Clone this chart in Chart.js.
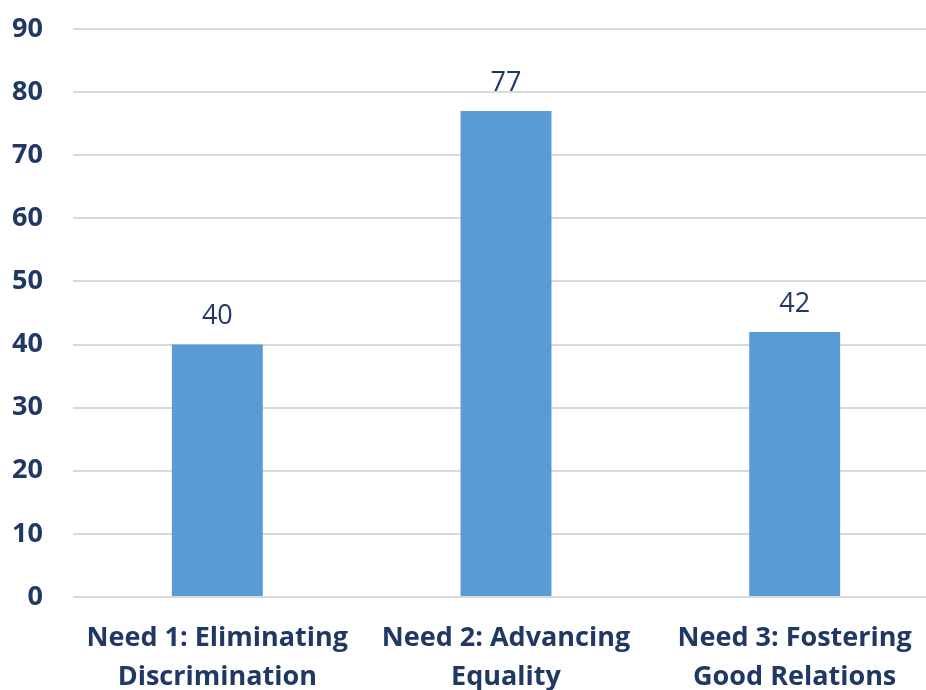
<!DOCTYPE html>
<html>
<head>
<meta charset="utf-8">
<title>Needs</title>
<script src="https://cdn.jsdelivr.net/npm/chart.js@4.4.1/dist/chart.umd.min.js"></script>
<style>
  html, body { margin: 0; padding: 0; background: #fff; overflow: hidden; }
  #frame { width: 926px; height: 690px; overflow: hidden; }
  /* plot runs slightly past the right edge */
  #wrap { width: 939px; height: 690px; position: relative; }
</style>
</head>
<body>
<div id="frame"><div id="wrap"><canvas id="needsChart"></canvas></div></div>
<script>
// Chart data
const categories = [
    ['Need 1: Eliminating', 'Discrimination'],
    ['Need 2: Advancing', 'Equality'],
    ['Need 3: Fostering', 'Good Relations']
];
const counts = [40, 77, 42];
const yTicks = [0, 10, 20, 30, 40, 50, 60, 70, 80, 90];

const NAVY = '#1F3864';
const BAR_BLUE = '#5B9BD5';
const FONT = '"Open Sans", sans-serif';

// Draws the value above each bar
const valueLabels = {
    id: 'valueLabels',
    afterDatasetsDraw(chart) {
        const ctx = chart.ctx;
        const meta = chart.getDatasetMeta(0);
        ctx.save();
        ctx.font = '27px ' + FONT;
        ctx.fillStyle = NAVY;
        ctx.textAlign = 'center';
        ctx.textBaseline = 'middle';
        meta.data.forEach(function(bar, i) {
            ctx.fillText(String(counts[i]), bar.x, bar.y - 28);
        });
        ctx.restore();
    }
};

new Chart(document.getElementById('needsChart'), {
    type: 'bar',
    data: {
        labels: categories,
        datasets: [{
            data: counts,
            backgroundColor: BAR_BLUE,
            borderWidth: 0,
            categoryPercentage: 0.315,
            barPercentage: 1.0
        }]
    },
    options: {
        responsive: true,
        maintainAspectRatio: false,
        animation: false,
        layout: {
            padding: { top: 29, right: 0, left: 0, bottom: 0 }
        },
        plugins: {
            legend: { display: false },
            tooltip: { enabled: false }
        },
        scales: {
            y: {
                min: 0,
                max: 90,
                afterBuildTicks: function(scale) {
                    scale.ticks = yTicks.map(v => ({ value: v }));
                },
                afterFit: function(scale) {
                    scale.width = 73;
                    scale.paddingTop = 0;
                    scale.paddingBottom = 0;
                },
                ticks: {
                    font: { family: FONT, size: 27, weight: 'bold' },
                    color: NAVY,
                    padding: 30
                },
                grid: {
                    color: '#D9D9D9',
                    lineWidth: 2,
                    drawTicks: false
                },
                border: { display: false }
            },
            x: {
                afterFit: function(scale) {
                    scale.height = 93;
                    scale.paddingLeft = 0;
                    scale.paddingRight = 0;
                },
                ticks: {
                    font: { family: FONT, size: 27, weight: 'bold', lineHeight: 1.45 },
                    color: NAVY,
                    padding: 22,
                    maxRotation: 0,
                    autoSkip: false
                },
                grid: { display: false, drawTicks: false },
                border: { display: false }
            }
        }
    },
    plugins: [valueLabels]
});
</script>
</body>
</html>
